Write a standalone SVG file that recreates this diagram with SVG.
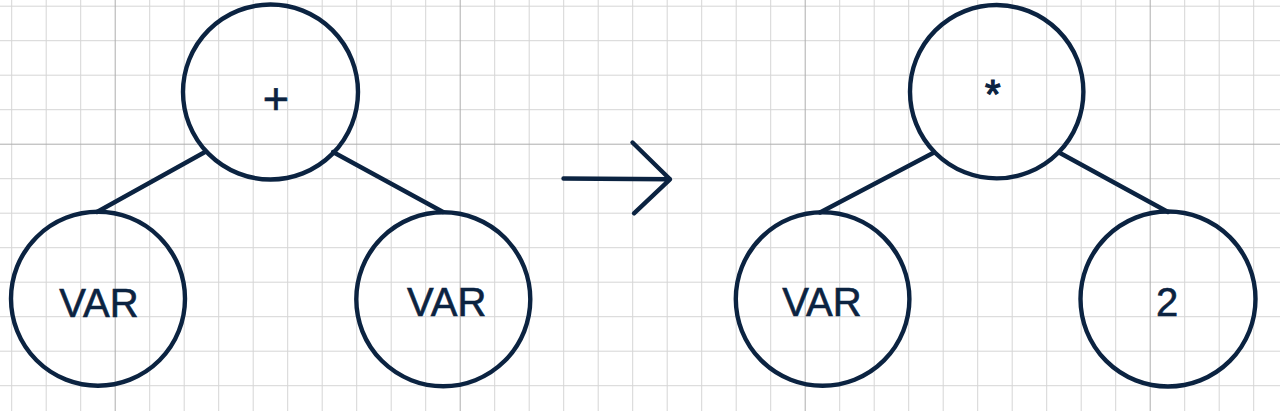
<svg xmlns="http://www.w3.org/2000/svg" width="1280" height="411" viewBox="0 0 1280 411">
<style>
.minor{stroke:#d6d6d6;stroke-width:1;fill:none}
.major{stroke:#adadad;stroke-width:1;fill:none}
.node{fill:none;stroke:#0b2341;stroke-width:4.4}
.edge{stroke:#0b2341;stroke-width:4.4;fill:none;stroke-linecap:round;stroke-linejoin:round}
.lbl{font-family:"Liberation Sans",Arial,Helvetica,sans-serif;fill:#0b2341;stroke:#0b2341;stroke-width:0.6;text-anchor:middle}
</style>
<rect width="1280" height="411" fill="#ffffff"/>
<g id="grid">
<path class="minor" d="M11.7 0V411M46.2 0V411M80.7 0V411M149.7 0V411M184.2 0V411M218.7 0V411M253.2 0V411M287.7 0V411M322.2 0V411M356.7 0V411M391.2 0V411M425.7 0V411M494.7 0V411M529.2 0V411M563.7 0V411M598.2 0V411M632.7 0V411M667.2 0V411M701.7 0V411M736.2 0V411M770.7 0V411M839.7 0V411M874.2 0V411M908.7 0V411M943.2 0V411M977.7 0V411M1012.2 0V411M1046.7 0V411M1081.2 0V411M1115.7 0V411M1184.7 0V411M1219.2 0V411M1253.7 0V411"/>
<path class="minor" d="M0 6.2H1280M0 40.7H1280M0 75.2H1280M0 109.7H1280M0 178.7H1280M0 213.2H1280M0 247.7H1280M0 282.2H1280M0 316.7H1280M0 351.2H1280M0 385.7H1280"/>
<path class="major" d="M115.2 0V411M460.2 0V411M805.2 0V411M1150.2 0V411M0 144.2H1280"/>
</g>
<g id="connectors">
<line class="edge" x1="205" y1="152" x2="97" y2="212"/>
<line class="edge" x1="333" y1="152" x2="443" y2="212"/>
<line class="edge" x1="934" y1="152.5" x2="820" y2="212.5"/>
<line class="edge" x1="1060" y1="153" x2="1168" y2="212"/>
<path class="edge" d="M563.5 178.5L670 179.3M632.5 142.5L670 179.3L634 213.3"/>
</g>
<g id="node-plus">
<circle class="node" cx="270.5" cy="92" r="87.5"/>
<text class="lbl" x="276" y="114.3" font-size="45">+</text>
</g>
<g id="node-var1">
<circle class="node" cx="98" cy="298.7" r="87"/>
<text class="lbl" x="99" y="316.5" font-size="40">VAR</text>
</g>
<g id="node-var2">
<circle class="node" cx="443.3" cy="299.3" r="87"/>
<text class="lbl" x="446.7" y="315.5" font-size="40">VAR</text>
</g>
<g id="node-times">
<circle class="node" cx="996.7" cy="91.7" r="86.7"/>
<text class="lbl" x="992.8" y="107.5" font-size="40" style="stroke-width:1.2">*</text>
</g>
<g id="node-var3">
<circle class="node" cx="822.6" cy="299" r="86.8"/>
<text class="lbl" x="822" y="316" font-size="40">VAR</text>
</g>
<g id="node-two">
<circle class="node" cx="1168" cy="299" r="87.5"/>
<text class="lbl" x="1167" y="316" font-size="40">2</text>
</g>
</svg>
